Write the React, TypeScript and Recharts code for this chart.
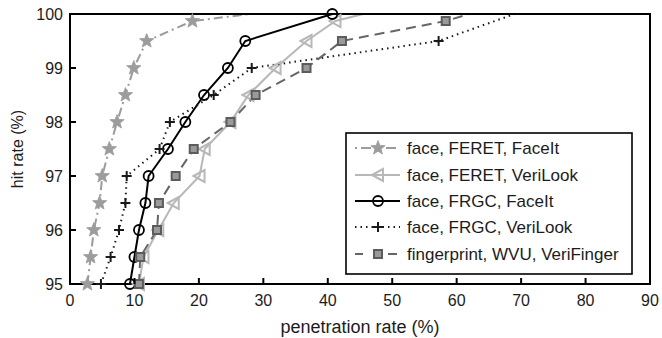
import React from "react";
import { LineChart, Line, XAxis, YAxis, Label, ReferenceArea } from "recharts";

// penetration rate (%) vs hit rate (%)
const X_TICKS = [0, 10, 20, 30, 40, 50, 60, 70, 80, 90];
const Y_TICKS = [95, 96, 97, 98, 99, 100];

const feretFaceitX = [2.7, 3.2, 3.7, 4.6, 5.0, 6.1, 7.3, 8.6, 9.9, 11.9, 19.0, 28];
const feretFaceitY = [95, 95.5, 96, 96.5, 97, 97.5, 98, 98.5, 99, 99.5, 99.87, 100];

const feretVerilookX = [10.7, 11.4, 13.7, 16.1, 20.1, 20.9, 24.9, 27.7, 31.9, 36.7, 41.2, 45.5];
const feretVerilookY = [95, 95.5, 96, 96.5, 97, 97.5, 98, 98.5, 99, 99.5, 99.87, 100];

const frgcFaceitX = [9.3, 10.0, 10.7, 11.7, 12.2, 15.2, 17.9, 20.8, 24.5, 27.2, 40.7];
const frgcFaceitY = [95, 95.5, 96, 96.5, 97, 97.5, 98, 98.5, 99, 99.5, 100];

const frgcVerilookX = [4.8, 6.3, 7.6, 8.6, 8.8, 13.9, 15.5, 22.3, 28.2, 57.2, 69];
const frgcVerilookY = [95, 95.5, 96, 96.5, 97, 97.5, 98, 98.5, 99, 99.5, 100];

const wvuVerifingerX = [10.7, 10.9, 13.5, 13.8, 16.4, 19.2, 24.9, 28.8, 36.7, 42.2, 58.3, 62];
const wvuVerifingerY = [95, 95.5, 96, 96.5, 97, 97.5, 98, 98.5, 99, 99.5, 99.87, 100];

const FONT = '"Liberation Sans", Arial, Helvetica, sans-serif';
const INK = "#1c1c1c";
const TICK = 6;

type Kind = "star" | "tri" | "circle" | "plus" | "square";
const zip = (xs: number[], ys: number[]) => xs.map((x, i) => ({ x, y: ys[i] }));

const SERIES = [
  { name: "face, FERET, FaceIt", data: zip(feretFaceitX, feretFaceitY), color: "#9c9c9c", dash: "9 4 2 4", kind: "star" as Kind },
  { name: "face, FERET, VeriLook", data: zip(feretVerilookX, feretVerilookY), color: "#b8b8b8", dash: undefined, kind: "tri" as Kind },
  { name: "face, FRGC, FaceIt", data: zip(frgcFaceitX, frgcFaceitY), color: "#000000", dash: undefined, kind: "circle" as Kind },
  { name: "face, FRGC, VeriLook", data: zip(frgcVerilookX, frgcVerilookY), color: "#1a1a1a", dash: "1.5 4", kind: "plus" as Kind },
  { name: "fingerprint, WVU, VeriFinger", data: zip(wvuVerifingerX, wvuVerifingerY), color: "#666666", dash: "10 6", kind: "square" as Kind },
];

function Marker({ kind, cx, cy, color }: { kind: Kind; cx: number; cy: number; color: string }) {
  if (kind === "star") {
    const p: string[] = [];
    for (let i = 0; i < 10; i++) {
      const r = i % 2 === 0 ? 7.5 : 3.2;
      const a = -Math.PI / 2 + (i * Math.PI) / 5;
      p.push(`${cx + r * Math.cos(a)},${cy + r * Math.sin(a)}`);
    }
    return <polygon points={p.join(" ")} fill={color} stroke={color} strokeWidth={0.8} />;
  }
  if (kind === "tri")
    return <polygon points={`${cx - 6},${cy} ${cx + 5},${cy - 6} ${cx + 5},${cy + 6}`} fill="none" stroke={color} strokeWidth={2} />;
  if (kind === "circle") return <circle cx={cx} cy={cy} r={5} fill="none" stroke={color} strokeWidth={1.8} />;
  if (kind === "plus")
    return (
      <g stroke={color} strokeWidth={2}>
        <line x1={cx - 5} x2={cx + 5} y1={cy} y2={cy} />
        <line x1={cx} x2={cx} y1={cy - 5} y2={cy + 5} />
      </g>
    );
  return <rect x={cx - 4} y={cy - 4} width={8} height={8} fill="#9a9a9a" stroke="#5c5c5c" strokeWidth={2} />;
}

// MATLAB-style ticks: pointing into the box on all four sides
function BottomTick({ x, y, payload }: any) {
  return (
    <g>
      <line x1={x} x2={x} y1={y} y2={y - TICK} stroke="#000" strokeWidth={2} />
      <text x={x} y={y + 22} textAnchor="middle" fontSize={16} fontFamily={FONT} fill={INK}>{payload.value}</text>
    </g>
  );
}
function LeftTick({ x, y, payload }: any) {
  return (
    <g>
      <line x1={x} x2={x + TICK} y1={y} y2={y} stroke="#000" strokeWidth={2} />
      <text x={x - 7} y={y + 6} textAnchor="end" fontSize={16} fontFamily={FONT} fill={INK}>{payload.value}</text>
    </g>
  );
}
const TopTick = ({ x, y }: any) => (
  <g><line x1={x} x2={x} y1={y} y2={y + TICK} stroke="#000" strokeWidth={2} /></g>
);
const RightTick = ({ x, y }: any) => (
  <g><line x1={x} x2={x - TICK} y1={y} y2={y} stroke="#000" strokeWidth={2} /></g>
);

function LegendBox() {
  const rows = [16, 43, 69, 95, 122];
  return (
    <svg width={288} height={143} style={{ position: "absolute", left: 345, top: 132 }}>
      <rect x={1} y={1} width={286} height={141} fill="#fff" stroke="#000" strokeWidth={1.6} />
      {SERIES.map((s, i) => {
        const cy = rows[i];
        return (
          <g key={s.name}>
            <line x1={10} x2={55} y1={cy} y2={cy} stroke={s.color} strokeWidth={2}
              strokeDasharray={s.kind === "square" ? "8 25 9" : s.kind === "star" ? "2 4 10 15 10 4 2" : s.dash} />
            <Marker kind={s.kind} cx={33} cy={cy} color={s.color} />
            <text x={62} y={cy + 6} fontSize={17} fontFamily={FONT} fill={INK}>{s.name}</text>
          </g>
        );
      })}
    </svg>
  );
}

export default function App() {
  return (
    <div style={{ position: "absolute", left: 0, top: 0, width: 662, height: 338, background: "#fff" }}>
      <LineChart width={662} height={338} margin={{ top: 0, right: 0, bottom: 0, left: 0 }}>
        <XAxis type="number" dataKey="x" domain={[0, 90]} ticks={X_TICKS} height={54}
          tickSize={0} tickMargin={0} tickLine={false} axisLine={{ stroke: "#000", strokeWidth: 2 }} tick={BottomTick} interval={0}>
          <Label content={({ viewBox }: any) => (
            <text x={viewBox.x + viewBox.width / 2} y={viewBox.y + 49} textAnchor="middle"
              fontSize={18} fontFamily={FONT} fill={INK}>penetration rate (%)</text>
          )} />
        </XAxis>
        <XAxis xAxisId="top" orientation="top" type="number" dataKey="x" domain={[0, 90]} ticks={X_TICKS}
          height={14} tickSize={0} tickMargin={0} tickLine={false}
          axisLine={{ stroke: "#000", strokeWidth: 2 }} tick={TopTick} interval={0} />
        <YAxis type="number" dataKey="y" domain={[95, 100]} ticks={Y_TICKS} width={70}
          tickSize={0} tickMargin={0} tickLine={false} axisLine={{ stroke: "#000", strokeWidth: 2 }} tick={LeftTick} interval={0}>
          <Label content={({ viewBox }: any) => {
            const tx = 23;
            const ty = viewBox.y + viewBox.height / 2;
            return (
              <text x={tx} y={ty} transform={`rotate(-90 ${tx} ${ty})`} textAnchor="middle"
                fontSize={16} fontFamily={FONT} fill={INK}>hit rate (%)</text>
            );
          }} />
        </YAxis>
        <YAxis yAxisId="right" orientation="right" type="number" domain={[95, 100]} ticks={Y_TICKS} width={12}
          tickSize={0} tickMargin={0} tickLine={false}
          axisLine={{ stroke: "#000", strokeWidth: 2 }} tick={RightTick} interval={0} />
        {/* box on: frame drawn through the data scales */}
        <ReferenceArea x1={0} x2={90} y1={95} y2={100} fill="none" stroke="#000" strokeWidth={2} />
        {SERIES.map((s) => (
          <Line key={s.name} data={s.data} dataKey="y" type="linear" stroke={s.color} strokeWidth={2}
            strokeDasharray={s.dash} isAnimationActive={false}
            dot={(p: any) => (p.payload.y >= 100 && s.kind !== "circle")
              ? <g key={p.index} />
              : <g key={p.index}><Marker kind={s.kind} cx={p.cx} cy={p.cy} color={s.color} /></g>}
            activeDot={false} />
        ))}
      </LineChart>
      <LegendBox />
    </div>
  );
}
